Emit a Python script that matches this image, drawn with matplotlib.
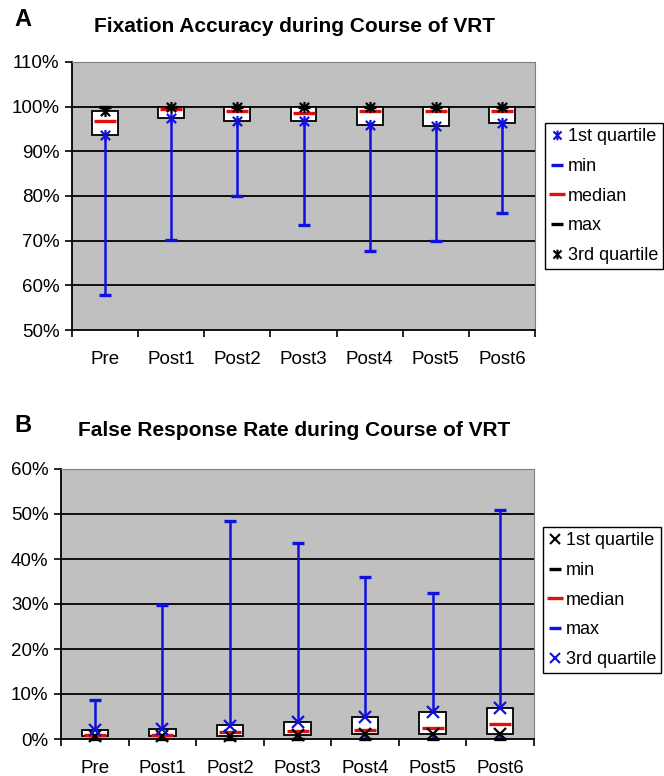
import numpy as np
import matplotlib
matplotlib.use("Agg")
from matplotlib import pyplot as plt
from matplotlib.path import Path
from matplotlib.lines import Line2D

plt.rcParams["font.family"] = ["Liberation Sans", "DejaVu Sans"]

sessions = ["Pre", "Post1", "Post2", "Post3", "Post4", "Post5", "Post6"]

# A: fixation accuracy (%)
q1_a = [93.7, 97.5, 96.8, 96.8, 96.0, 95.7, 96.4]
min_a = [57.9, 70.2, 79.9, 73.6, 67.7, 69.9, 76.2]
med_a = [96.8, 99.5, 99.1, 98.5, 99.1, 99.1, 99.1]
max_a = [100.0, 100.0, 100.0, 100.0, 100.0, 100.0, 100.0]
q3_a = [99.1, 100.0, 100.0, 100.0, 100.0, 100.0, 100.0]

# B: false response rate (%)
q1_b = [0.7, 0.7, 0.7, 0.9, 1.2, 1.2, 1.2]
min_b = [0.0, 0.0, 0.0, 0.0, 0.0, 0.0, 0.0]
med_b = [1.0, 1.0, 1.5, 1.8, 2.1, 2.4, 3.4]
max_b = [8.6, 29.8, 48.5, 43.5, 36.0, 32.4, 50.8]
q3_b = [1.9, 2.2, 3.0, 3.8, 4.9, 6.1, 6.8]

BLUE = "#1010e0"
RED = "#e01010"
star = Path([(-1, -1), (1, 1), (-1, 1), (1, -1), (0, -1.2), (0, 1.2)],
            [Path.MOVETO, Path.LINETO, Path.MOVETO, Path.LINETO, Path.MOVETO, Path.LINETO])

fig = plt.figure(figsize=(6.64, 7.76), dpi=100)


def panel(ax, q1, lo, med, hi, q3, ylim, yticks, q1_style, lo_col, hi_col, q3_style):
    x = np.arange(len(sessions)) + 0.5
    ax.set_facecolor("#c0c0c0")
    ax.set_xlim(0, len(sessions))
    ax.set_ylim(*ylim)
    for y in yticks[1:-1]:
        ax.axhline(y, color="black", lw=1.3, zorder=1)
    ax.vlines(x, lo, hi, color=BLUE, lw=1.8, zorder=2)
    w = 0.39
    for xi, a, b in zip(x, q1, q3):
        ax.add_patch(plt.Rectangle((xi - w / 2, a), w, b - a, facecolor="white",
                                   edgecolor="black", lw=1.3, zorder=3))
    ax.plot(x, med, ls="none", marker="_", ms=16, mew=2.4, color=RED, zorder=4)
    ax.plot(x, lo, ls="none", marker="_", ms=8, mew=2.4, color=lo_col, zorder=5, clip_on=False)
    ax.plot(x, hi, ls="none", marker="_", ms=8, mew=2.4, color=hi_col, zorder=5, clip_on=False)
    ax.plot(x, q1, ls="none", marker=q1_style[0], ms=8, mew=1.6, color=q1_style[1], zorder=6, clip_on=False)
    ax.plot(x, q3, ls="none", marker=q3_style[0], ms=8, mew=1.6, color=q3_style[1], zorder=6, clip_on=False)

    ax.set_yticks(yticks)
    ax.set_yticklabels([f"{int(v)}%" for v in yticks])
    ax.set_xticks(np.arange(len(sessions) + 1))
    ax.set_xticklabels([])
    ax.set_xticks(x, minor=True)
    ax.set_xticklabels(sessions, minor=True)
    ax.tick_params(axis="x", which="major", length=5, width=1.2, direction="out")
    ax.tick_params(axis="x", which="minor", length=0, pad=15, labelsize=13.5)
    ax.tick_params(axis="y", length=5, width=1.2, pad=4, labelsize=13.5)
    for s in ["top", "right"]:
        ax.spines[s].set_color("#808080")
    for s in ["left", "bottom"]:
        ax.spines[s].set_color("black")
        ax.spines[s].set_linewidth(1.3)

    handles = [
        Line2D([], [], ls="none", marker=q1_style[0], ms=7, mew=1.5, color=q1_style[1]),
        Line2D([], [], ls="none", marker="_", ms=8, mew=2.4, color=lo_col),
        Line2D([], [], ls="none", marker="_", ms=12, mew=2.4, color=RED),
        Line2D([], [], ls="none", marker="_", ms=8, mew=2.4, color=hi_col),
        Line2D([], [], ls="none", marker=q3_style[0], ms=7, mew=1.5, color=q3_style[1]),
    ]
    labels = ["1st quartile", "min", "median", "max", "3rd quartile"]
    return handles, labels


leg_kw = dict(loc="upper left", fontsize=13, frameon=True, fancybox=False, edgecolor="black",
              framealpha=1, labelspacing=0.7, handlelength=0.7, handletextpad=0.25,
              borderpad=0.3, borderaxespad=0)

ax_a = fig.add_axes([72 / 664, 1 - 330 / 776, 463 / 664, 268 / 776])
h, l = panel(ax_a, q1_a, min_a, med_a, max_a, q3_a, (50, 110), list(range(50, 111, 10)),
             (star, BLUE), BLUE, "black", (star, "black"))
fig.legend(h, l, bbox_to_anchor=(545 / 664, 1 - 123 / 776), **leg_kw)

ax_b = fig.add_axes([61 / 664, 1 - 739 / 776, 473 / 664, 270 / 776])
h, l = panel(ax_b, q1_b, min_b, med_b, max_b, q3_b, (0, 60), list(range(0, 61, 10)),
             ("x", "black"), "black", BLUE, ("x", BLUE))
fig.legend(h, l, bbox_to_anchor=(543 / 664, 1 - 527 / 776), **leg_kw)

fig.text(14 / 664, 1 - 20 / 776, "A", fontsize=17, fontweight="bold", va="center")
fig.text(294 / 664, 1 - 27 / 776, "Fixation Accuracy during Course of VRT", fontsize=15,
         fontweight="bold", ha="center", va="center")
fig.text(14 / 664, 1 - 425 / 776, "B", fontsize=17, fontweight="bold", va="center")
fig.text(294 / 664, 1 - 431 / 776, "False Response Rate during Course of VRT", fontsize=15,
         fontweight="bold", ha="center", va="center")

fig.savefig("out.png", dpi=100)
